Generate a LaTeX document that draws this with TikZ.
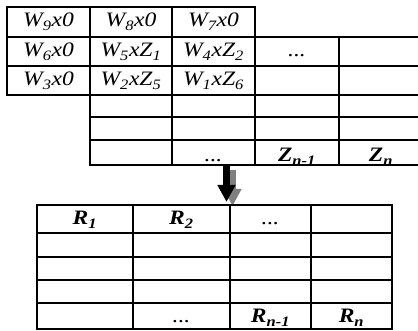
\documentclass[tikz,border=0pt]{standalone}
\usepackage{fontspec}
\usepackage{graphicx}
\setmainfont{Liberation Serif}
\usetikzlibrary{arrows.meta}
\newcommand{\wide}[1]{\scalebox{1.15}[1]{#1}}
\tikzset{
  grid/.style={line width=2.6pt, line cap=rect},
  cell/.style={anchor=base, inner sep=0pt, font=\fontsize{20.5}{22}\selectfont\itshape},
  bcell/.style={cell, font=\fontsize{20.5}{22}\selectfont\bfseries\itshape},
  bigarrow/.style={line width=7pt, -{Triangle[width=17pt,length=17pt]}},
}
\newcommand{\sbs}[1]{\textsubscript{#1}}
\begin{document}
\begin{tikzpicture}[x=1pt,y=-1pt]
\useasboundingbox (0,0) rectangle (418,331);
% top table
\draw[grid] (7,7) -- (255,7);
\foreach \y in {37,66,95} \draw[grid] (7,\y) -- (420,\y);
\foreach \y in {117,140,165} \draw[grid] (90,\y) -- (420,\y);
\draw[grid] (7,7) -- (7,95);
\draw[grid] (90,7) -- (90,165);
\draw[grid] (172,7) -- (172,165);
\draw[grid] (255,7) -- (255,165);
\draw[grid] (339,37) -- (339,165);
\node[cell] (w9) at (48.5,27) {\wide{W\sbs{9}x0}};
\node[cell] (w8) at (131,27) {\wide{W\sbs{8}x0}};
\node[cell] (w7) at (213.5,27) {\wide{W\sbs{7}x0}};
\node[cell] (w6) at (48.5,57) {\wide{W\sbs{6}x0}};
\node[cell] (w5) at (131,57) {\wide{W\sbs{5}xZ\sbs{1}}};
\node[cell] (w4) at (213.5,57) {\wide{W\sbs{4}xZ\sbs{2}}};
\node[cell] (d1) at (297,57) {\wide{...}};
\node[cell] (w3) at (48.5,86) {\wide{W\sbs{3}x0}};
\node[cell] (w2) at (131,86) {\wide{W\sbs{2}xZ\sbs{5}}};
\node[cell] (w1) at (213.5,86) {\wide{W\sbs{1}xZ\sbs{6}}};
\node[cell] (d2) at (213.5,162) {\wide{...}};
\node[bcell] (zn1) at (297,162) {\wide{Z\sbs{n-1}}};
\node[bcell] (zn) at (381,162) {\wide{Z\sbs{n}}};
% arrow
\coordinate (aS) at (226.5,166);
\coordinate (aE) at (226.5,202);
\draw[bigarrow, gray] ([shift={(6,4)}]aS) -- ([shift={(6,4)}]aE);
\draw[bigarrow, black] (aS) -- (aE);
% bottom table
\foreach \y in {205,233,257,280,303,329} \draw[grid] (37,\y) -- (392,\y);
\foreach \x in {37,133,230,311,392} \draw[grid] (\x,205) -- (\x,329);
\node[bcell] (r1) at (85,225) {\wide{R\sbs{1}}};
\node[bcell] (r2) at (181.5,225) {\wide{R\sbs{2}}};
\node[cell] (d3) at (270.5,225) {\wide{...}};
\node[cell] (d4) at (181.5,323) {\wide{...}};
\node[bcell] (rn1) at (270.5,323) {\wide{R\sbs{n-1}}};
\node[bcell] (rn) at (351.5,323) {\wide{R\sbs{n}}};
\end{tikzpicture}
\end{document}
